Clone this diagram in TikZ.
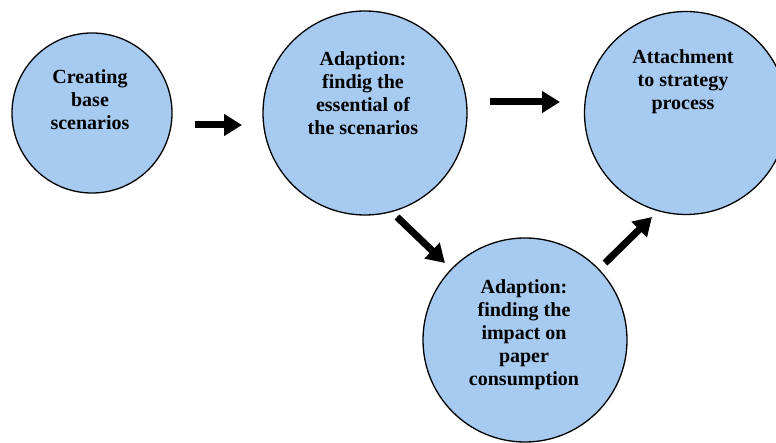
\documentclass[tikz,border=0pt]{standalone}
\usepackage{fontspec}
\setmainfont{Liberation Serif}
\usetikzlibrary{arrows.meta,calc}
\definecolor{bubblefill}{RGB}{166,202,240}
\begin{document}
\begin{tikzpicture}[x=1pt,y=-1pt,
  bubble/.style={circle,draw=black,line width=1.3pt,fill=bubblefill,inner sep=0pt},
  caption/.style={align=center,inner sep=0pt,font=\fontsize{20}{23}\selectfont\bfseries},
  flow/.style={line width=7pt,-{Triangle[length=18pt,width=21pt]}}]
\useasboundingbox (0,0) rectangle (776,443);

% process stages
\node[bubble,minimum size=160pt] (c1) at (92,113) {};
\node[bubble,minimum size=204pt] (c2) at (365,113) {};
\node[bubble,minimum size=203pt] (c3) at (686,113) {};
\node[bubble,minimum size=204pt] (c4) at (525,340) {};

% stage texts
\node[caption] (t1) at (90,100) {Creating\\base\\scenarios};
\node[caption] (t2) at (363,93) {Adaption:\\findig the\\essential of\\the scenarios};
\node[caption] (t3) at (683,82) {Attachment\\to strategy\\process};
\node[caption] (t4) at (524,335) {Adaption:\\finding the\\impact on\\paper\\consumption};

% flow between stages
\draw[flow] ($(c1.center)+(103,12)$) -- ($(c2.center)+(-123,12)$);
\draw[flow] ($(c2.center)+(125,-11)$) -- ($(c3.center)+(-126,-11)$);
\draw[flow] ($(c2.center)+(32,104)$) -- ($(c4.center)+(-80,-77)$);
\draw[flow] ($(c4.center)+(80,-77)$) -- ($(c3.center)+(-34,104)$);
\end{tikzpicture}
\end{document}
